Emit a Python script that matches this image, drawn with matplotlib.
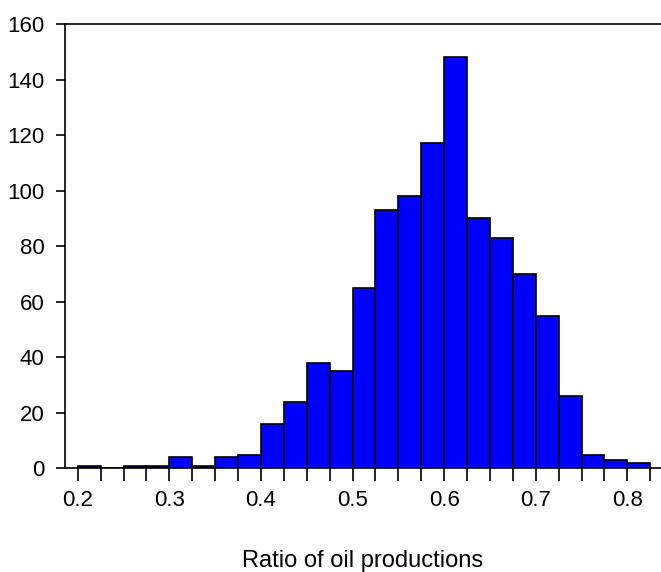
import matplotlib
matplotlib.use("Agg")
import matplotlib.pyplot as plt
import numpy as np

plt.rcParams["font.family"] = ["Liberation Sans", "DejaVu Sans"]

# histogram of the ratio of oil productions, bin width 0.025
bin_start = 0.2
bin_width = 0.025
counts = [1, 0, 1, 1, 4, 1, 4, 5, 16, 24, 38, 35, 65, 93, 98, 117,
          148, 90, 83, 70, 55, 26, 5, 3, 2]
x_ticklabels = ["0.2", "0.3", "0.4", "0.5", "0.6", "0.7", "0.8"]
y_ticks = [0, 20, 40, 60, 80, 100, 120, 140, 160]
xlabel = "Ratio of oil productions"

edges = bin_start + bin_width * np.arange(len(counts) + 1)

fig = plt.figure(figsize=(6.61, 5.72), dpi=100)
ax = fig.add_axes([0.098, 0.181, 0.902, 0.777])

ax.bar(edges[:-1], counts, width=bin_width, align="edge",
       color="#0000ff", edgecolor="black", linewidth=1.2)

ax.set_xlim(0.1858, 0.8368)
ax.set_ylim(0, 160)

ax.spines["right"].set_visible(False)
for side in ("left", "top", "bottom"):
    ax.spines[side].set_linewidth(1.2)

ax.set_xticks(edges, minor=True)
ax.set_xticks([float(t) for t in x_ticklabels])
ax.set_xticklabels(x_ticklabels)
ax.set_yticks(y_ticks)

ax.tick_params(axis="x", which="both", direction="out", length=9.5,
               width=1.2, labelsize=16, pad=6)
ax.tick_params(axis="y", direction="out", length=6.5, width=1.2,
               labelsize=16, pad=8)

ax.set_xlabel(xlabel, fontsize=17, labelpad=28)

fig.savefig("out.png", dpi=100)
